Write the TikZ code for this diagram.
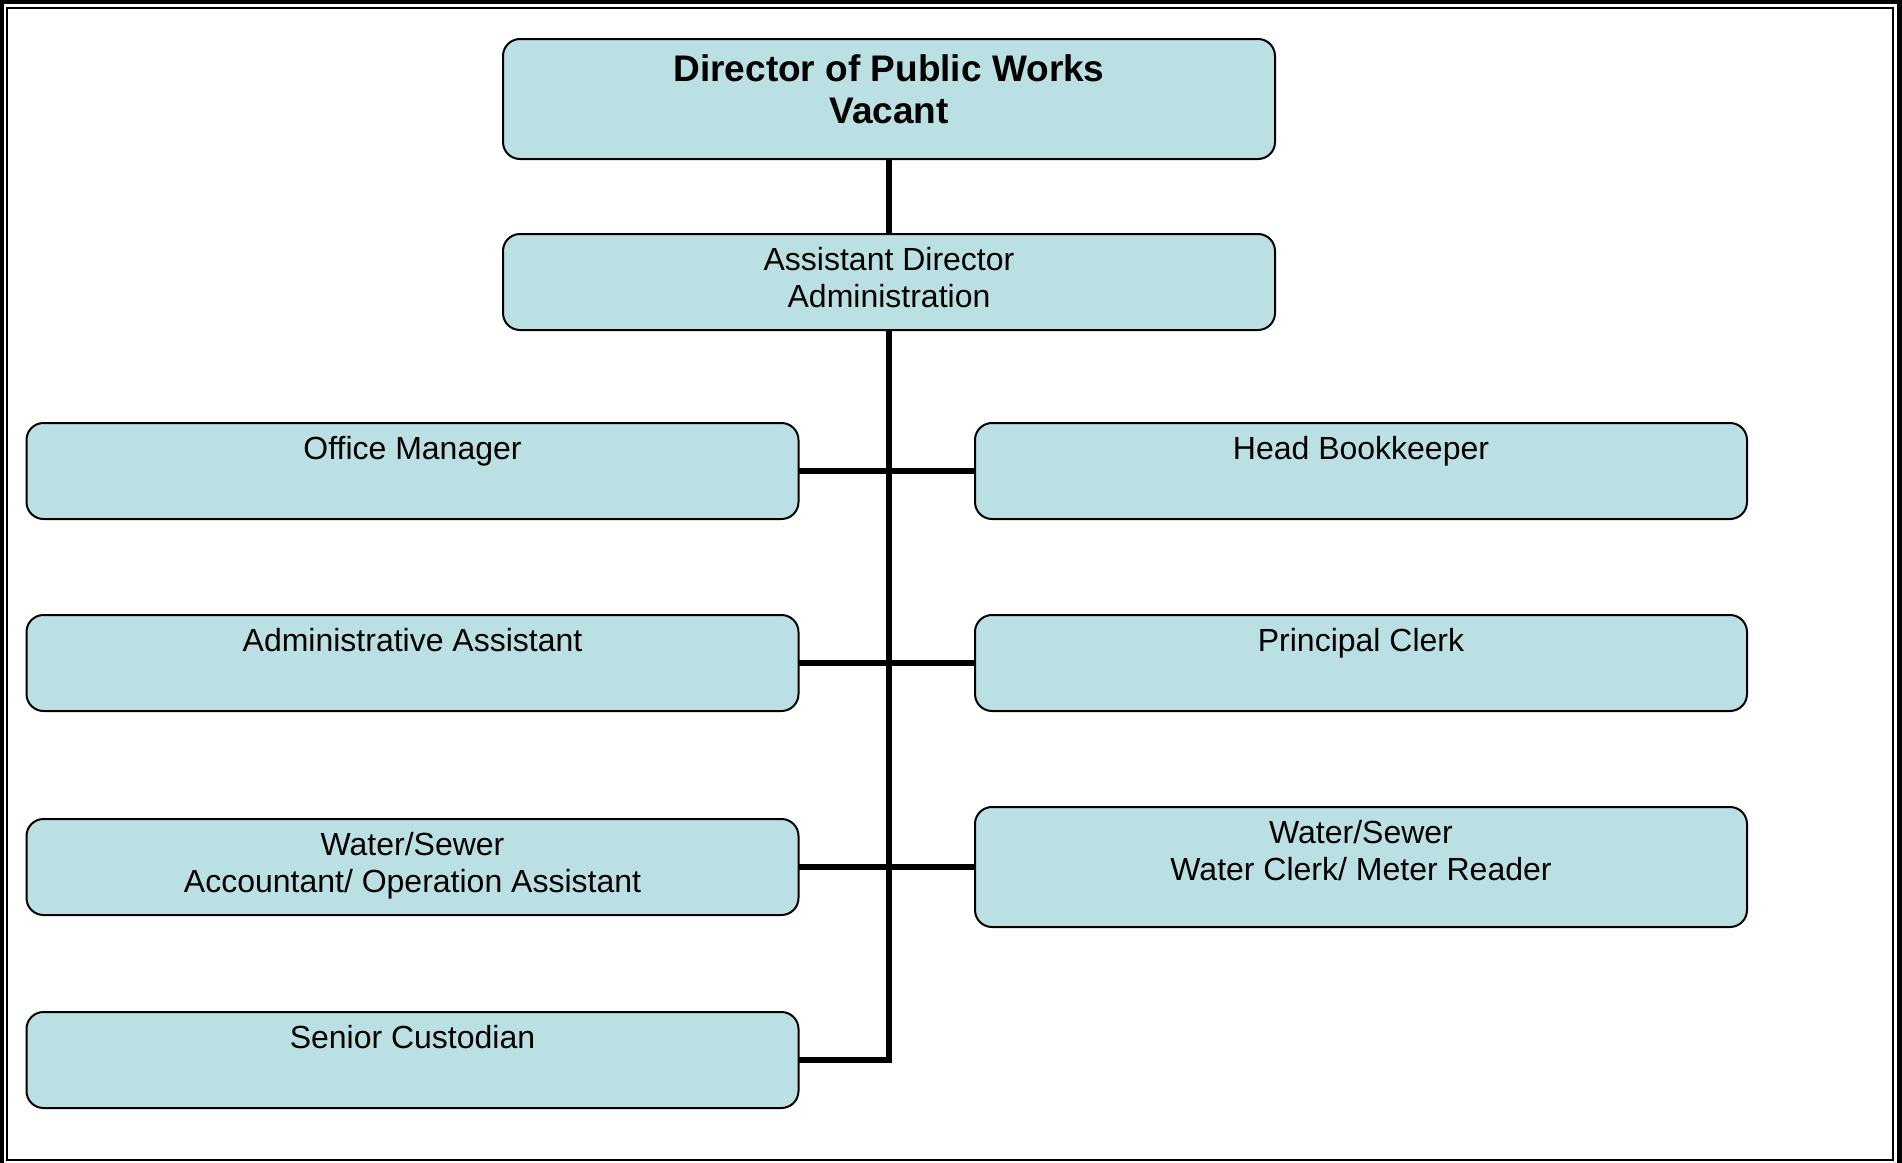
\documentclass[tikz,border=0pt]{standalone}
\usepackage{fontspec}
\setmainfont{Liberation Sans}
\definecolor{boxfill}{RGB}{187,224,227}
\newcommand{\orgtext}[4]{\parbox[c][#1pt][t]{#2pt}{\centering\vspace*{#3pt}\strut #4\par}}
\newcommand{\normtext}[2]{\fontsize{32}{37.6}\selectfont\orgtext{#1}{772}{10}{#2}}
\newcommand{\headtext}[2]{\fontsize{37}{42.5}\selectfont\bfseries\orgtext{#1}{772}{12.5}{#2}}
\tikzset{
  orgbox/.style={draw=black, line width=2pt, fill=boxfill, rounded corners=17pt, inner sep=0pt, outer sep=0pt},
  conn/.style={draw=black, line width=6pt, line join=miter},
  outerframe/.style={draw=black, line width=4.5pt},
  innerframe/.style={draw=black, line width=2pt}
}
\begin{document}
\begin{tikzpicture}[x=1pt, y=-1pt]
\useasboundingbox (0,0) rectangle (1902,1162);
\fill[white] (0,0) rectangle (1902,1162);
% frame
\draw[outerframe] (2.2,2.2) rectangle (1899.6,1170);
\draw[innerframe] (7.2,7.5) rectangle (1893.4,1160);
% boxes
\node[orgbox] (dir)  at (889,99)    {\headtext{120}{Director of Public Works\\Vacant}};
\node[orgbox] (asst) at (889,282)   {\normtext{96}{Assistant Director\\Administration}};
\node[orgbox] (om)   at (412.5,471) {\normtext{96}{Office Manager}};
\node[orgbox] (hb)   at (1361,471)  {\normtext{96}{Head Bookkeeper}};
\node[orgbox] (aa)   at (412.5,663) {\normtext{96}{Administrative Assistant}};
\node[orgbox] (pc)   at (1361,663)  {\normtext{96}{Principal Clerk}};
\node[orgbox] (wa)   at (412.5,867) {\normtext{96}{Water/Sewer\\Accountant/ Operation Assistant}};
\node[orgbox] (wc)   at (1361,867)  {\normtext{120}{Water/Sewer\\Water Clerk/ Meter Reader}};
\node[orgbox] (cust) at (412.5,1060){\normtext{96}{Senior Custodian}};
% connectors
\draw[conn] (dir.south) -- (asst.north);
\draw[conn] (asst.south) -- (asst.south |- cust.east) -- (cust.east);
\draw[conn] (om.east) -- (hb.west);
\draw[conn] (aa.east) -- (pc.west);
\draw[conn] (wa.east) -- (wc.west);
\end{tikzpicture}
\end{document}
